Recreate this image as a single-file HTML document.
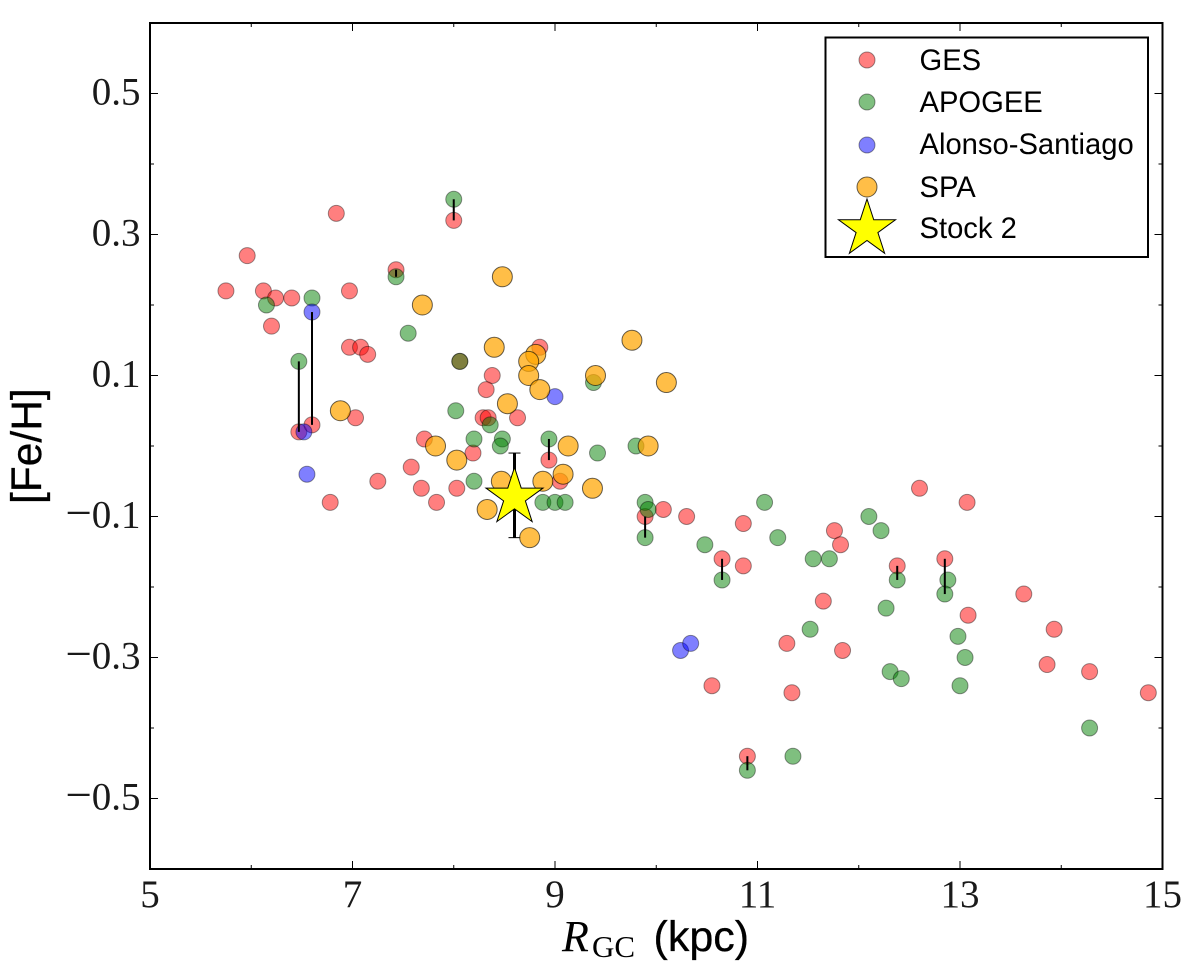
<!DOCTYPE html>
<html>
<head>
<meta charset="utf-8">
<title>[Fe/H] vs RGC</title>
<style>
html,body{margin:0;padding:0;background:#fff;}
svg{display:block;}
.tick{font-family:"Liberation Serif",serif;font-size:39px;fill:#1a1a1a;}
.sans{font-family:"Liberation Sans",sans-serif;fill:#000;}
.title{stroke:#000;stroke-width:0.3px;}
</style>
</head>
<body>
<svg id="chart" width="1200" height="973" viewBox="0 0 1200 973" xmlns="http://www.w3.org/2000/svg">
  <rect x="0" y="0" width="1200" height="973" fill="#fff"/>
  <g id="marks"></g>
  <g id="ticks"></g>
  <rect x="150" y="23" width="1012.5" height="846" fill="none" stroke="#000" stroke-width="2"/>

  <text x="562" y="951" font-family="'Liberation Serif',serif" font-style="italic" font-size="44" fill="#000">R</text>
  <text x="592" y="957" font-family="'Liberation Serif',serif" font-size="31" fill="#000">GC</text>
  <text x="653.5" y="951" class="sans title" font-size="43">(kpc)</text>
  <text transform="translate(41,504) rotate(-90)" class="sans title" font-size="42.5">[Fe/H]</text>

  <g>
    <rect x="825.5" y="37.5" width="322.5" height="219.5" fill="#fff" stroke="#000" stroke-width="2"/>
    <circle cx="867" cy="60" r="8" fill="#f00" fill-opacity="0.5" stroke="#000" stroke-opacity="0.4"/>
    <circle cx="867" cy="102" r="8" fill="#008000" fill-opacity="0.5" stroke="#000" stroke-opacity="0.4"/>
    <circle cx="867" cy="145" r="8" fill="#00f" fill-opacity="0.5" stroke="#000" stroke-opacity="0.4"/>
    <circle cx="867" cy="187" r="10" fill="#ffa500" fill-opacity="0.72" stroke="#000" stroke-opacity="0.6"/>
    <polygon id="legend-star" fill="#ff0" stroke="#000" stroke-width="1"/>
    <text x="919.5" y="70" class="sans" font-size="29.2">GES</text>
    <text x="919.5" y="112" class="sans" font-size="29.2">APOGEE</text>
    <text x="919.5" y="154" class="sans" font-size="29.2">Alonso-Santiago</text>
    <text x="919.5" y="197" class="sans" font-size="29.2">SPA</text>
    <text x="919.5" y="238" class="sans" font-size="29.2">Stock 2</text>
  </g>
</svg>
<script>
const xMajorTicks = [5, 7, 9, 11, 13, 15];
const xMinorTicks = [6, 8, 10, 12, 14];
const yMajorTicks = [0.5, 0.3, 0.1, -0.1, -0.3, -0.5];
const yMinorTicks = [0.4, 0.2, 0, -0.2, -0.4];

const gesR = [5.75,5.96,6.12,6.24,6.40,6.20,6.84,6.97,6.97,7.08,7.15,7.43,8.0,8.06,8.85,8.38,8.32,7.03,6.47,6.60,8.29,8.34,8.63,7.71,8.19,7.58,8.94,7.68,7.83,8.03,7.25,6.78,9.05,9.89,10.07,10.30,10.86,10.65,10.86,11.76,11.82,11.65,12.38,12.85,12.60,13.07,13.08,13.63,13.93,13.86,14.28,14.86,11.29,11.84,11.34,10.55,10.90];
const gesFe = [0.22,0.27,0.22,0.21,0.21,0.17,0.33,0.22,0.14,0.14,0.13,0.25,0.32,0.12,0.14,0.10,0.08,0.04,0.02,0.03,0.04,0.04,0.04,0.01,-0.01,-0.03,-0.02,-0.06,-0.08,-0.06,-0.05,-0.08,-0.05,-0.10,-0.09,-0.10,-0.11,-0.16,-0.17,-0.12,-0.14,-0.22,-0.17,-0.16,-0.06,-0.08,-0.24,-0.21,-0.26,-0.31,-0.32,-0.35,-0.28,-0.29,-0.35,-0.34,-0.44];

const apogeeR = [8.0,7.43,6.60,6.15,6.47,7.55,8.06,8.02,8.36,8.20,8.48,8.46,8.94,9.42,9.80,8.20,8.88,9.0,9.10,9.38,9.89,9.92,9.89,11.07,10.48,10.65,11.20,11.55,11.71,12.10,12.22,12.38,12.88,12.85,12.27,12.98,13.05,13.0,12.31,12.42,11.52,11.35,10.90,14.28];
const apogeeFe = [0.35,0.24,0.21,0.20,0.12,0.16,0.12,0.05,0.03,0.01,0.01,0,0.01,-0.01,0,-0.05,-0.08,-0.08,-0.08,0.09,-0.08,-0.09,-0.13,-0.08,-0.14,-0.19,-0.13,-0.16,-0.16,-0.10,-0.12,-0.19,-0.19,-0.21,-0.23,-0.27,-0.30,-0.34,-0.32,-0.33,-0.26,-0.44,-0.46,-0.40];

const alonsoR = [6.60,6.52,6.55,9.0,10.24,10.34];
const alonsoFe = [0.19,0.02,-0.04,0.07,-0.29,-0.28];

const spaR = [8.48,7.69,8.40,8.81,8.74,8.74,8.85,8.53,9.76,9.40,10.10,7.82,8.03,9.13,9.92,9.08,8.47,8.88,9.37,8.33,8.75,6.88];
const spaFe = [0.24,0.20,0.14,0.13,0.12,0.10,0.08,0.06,0.15,0.10,0.09,0,-0.02,0,0,-0.04,-0.05,-0.05,-0.06,-0.09,-0.13,0.05];

const linkR = [8.0,7.43,6.47,6.60,8.94,9.89,10.65,12.38,12.85,10.90];
const linkFeLow = [0.32,0.24,0.02,0.03,-0.02,-0.13,-0.19,-0.19,-0.21,-0.46];
const linkFeHigh = [0.35,0.25,0.12,0.19,0.01,-0.10,-0.16,-0.17,-0.16,-0.44];

const stockR = [8.6];
const stockFe = [-0.07];
const stockErr = [0.06];

const SVGNS = 'http://www.w3.org/2000/svg';
const marks = document.getElementById('marks');
const ticks = document.getElementById('ticks');
function xScale(v){ return 150 + (v - 5) * 101.25; }
function yScale(v){ return 446 - v * 705; }

function make(tag, attrs, parent){
  const el = document.createElementNS(SVGNS, tag);
  for (const k in attrs) el.setAttribute(k, attrs[k]);
  parent.appendChild(el);
  return el;
}
function starPoints(cx, cy, R){
  const pts = [];
  for (let i = 0; i < 10; i++){
    const rad = i % 2 === 0 ? R : R * 0.382;
    const a = -Math.PI / 2 + i * Math.PI / 5;
    pts.push((cx + rad * Math.cos(a)).toFixed(2) + ',' + (cy + rad * Math.sin(a)).toFixed(2));
  }
  return pts.join(' ');
}

function drawSeries(xs, ys, r, fill, fa, sa){
  xs.forEach(function(v, i){
    const c = make('circle', {cx: xScale(v), cy: yScale(ys[i]), r: r, fill: fill, 'fill-opacity': fa, stroke: '#000', 'stroke-opacity': sa, 'stroke-width': 1}, marks);
    
    
  });
}
drawSeries(gesR, gesFe, 8, '#f00', 0.5, 0.4);
drawSeries(apogeeR, apogeeFe, 8, '#008000', 0.5, 0.4);
drawSeries(alonsoR, alonsoFe, 8, '#00f', 0.5, 0.4);

linkR.forEach(function(v, i){
  const l = make('line', {x1: xScale(v), x2: xScale(v), y1: yScale(linkFeLow[i]), y2: yScale(linkFeHigh[i]), stroke: '#000', 'stroke-width': 2}, marks);
  
  
});

const stockX = xScale(stockR[0]);
const errTop = yScale(stockFe[0] + stockErr[0]);
const errBot = yScale(stockFe[0] - stockErr[0]);
const errLine = make('line', {x1: stockX, x2: stockX, y1: errTop, y2: errBot, stroke: '#000', 'stroke-width': 3}, marks);


[errTop, errBot].forEach(function(y){
  const cap = make('line', {x1: stockX - 6, x2: stockX + 6, y1: y, y2: y, stroke: '#000', 'stroke-width': 1}, marks);
  
  
});

drawSeries(spaR, spaFe, 10, '#ffa500', 0.72, 0.6);

const star = make('polygon', {points: starPoints(stockX, yScale(stockFe[0]) + 2, 30), fill: '#ff0', stroke: '#000', 'stroke-width': 1}, marks);



document.getElementById('legend-star').setAttribute('points', starPoints(867, 229, 30));

function xTick(v, len){
  [[869, 869 - len], [23, 23 + len]].forEach(function(p){
    const t = make('line', {x1: xScale(v), x2: xScale(v), y1: p[0], y2: p[1], stroke: '#000', 'stroke-width': 1}, ticks);
    
    
  });
}
function yTick(v, len){
  [[150, 150 + len], [1162.5, 1162.5 - len]].forEach(function(p){
    const t = make('line', {x1: p[0], x2: p[1], y1: yScale(v), y2: yScale(v), stroke: '#000', 'stroke-width': 1}, ticks);
    
    
  });
}
xMajorTicks.forEach(function(v){
  xTick(v, 8);
  const t = make('text', {x: xScale(v), y: 907, 'text-anchor': 'middle', 'class': 'tick'}, ticks);
  t.textContent = String(v);
  
  
});
xMinorTicks.forEach(function(v){ xTick(v, 4); });
yMajorTicks.forEach(function(v){
  yTick(v, 8);
  const t = make('text', {x: 140.5, y: yScale(v) + 11, 'text-anchor': 'end', 'class': 'tick'}, ticks);
  
  
  if (v < 0) {
    const m = make('tspan', {'font-size': 47, dy: 1}, t);
    m.textContent = '\u2212';
    const d = make('tspan', {dy: -1}, t);
    d.textContent = Math.abs(v).toFixed(1);
  } else {
    t.textContent = v.toFixed(1);
  }
});
yMinorTicks.forEach(function(v){ yTick(v, 4); });
</script>
</body>
</html>
